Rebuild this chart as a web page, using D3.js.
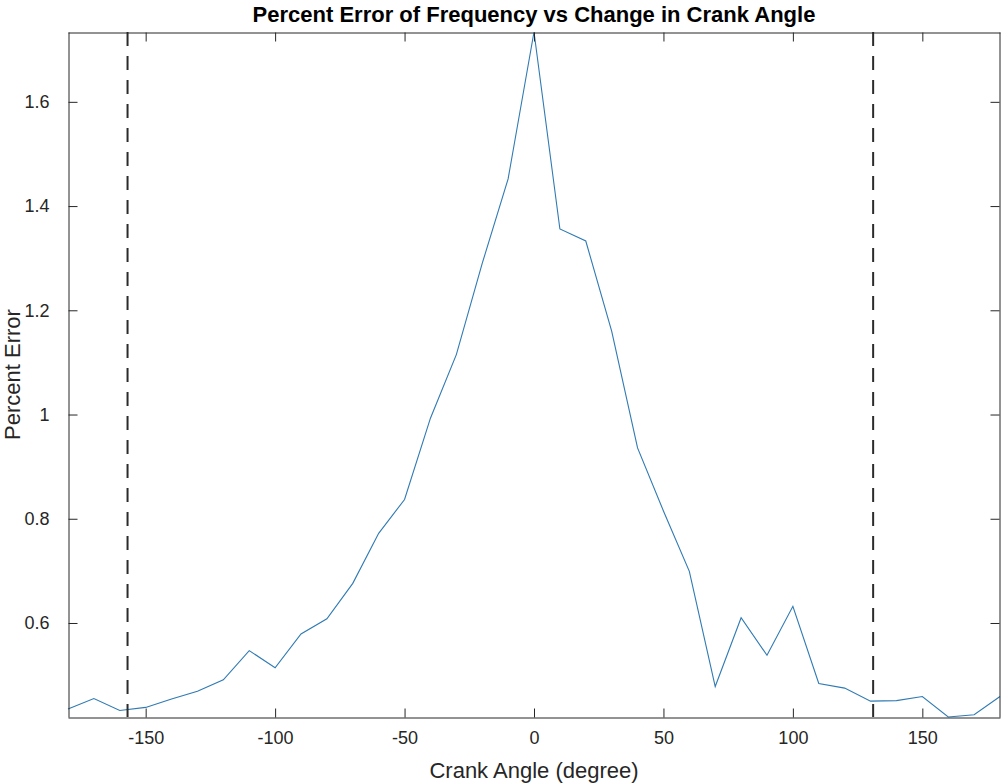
<!DOCTYPE html>
<html>
<head>
<meta charset="utf-8">
<script src="https://cdn.jsdelivr.net/npm/d3@7"></script>
<style>
    body { margin: 0; background: #fff; }
    svg { display: block; font-family: "Liberation Sans", Arial, sans-serif; }
</style>
</head>
<body>
<div id="chart"></div>
<script>
// crank angle (degree) and percent error
const angles = [-180, -170, -160, -150, -140, -130, -120, -110, -100, -90, -80, -70, -60, -50, -40, -30, -20, -10,
    0, 10, 20, 30, 40, 50, 60, 70, 80, 90, 100, 110, 120, 130, 140, 150, 160, 170, 180];
const errors = [0.435, 0.455, 0.432, 0.438, 0.454, 0.469, 0.491, 0.547, 0.514, 0.579, 0.608, 0.676, 0.772, 0.837, 0.993, 1.115, 1.290, 1.452,
    1.734, 1.356, 1.333, 1.160, 0.936, 0.815, 0.699, 0.478, 0.610, 0.538, 0.632, 0.484, 0.475, 0.450, 0.451, 0.459, 0.4196, 0.424, 0.459];
const markers = [-157, 131];
const xTicks = [-150, -100, -50, 0, 50, 100, 150];
const yTicks = [0.6, 0.8, 1.0, 1.2, 1.4, 1.6];

const width = 1001, height = 784;
const margin = {top: 32, right: 1, bottom: 67, left: 68};
const axisColor = "#262626";

const points = angles.map((a, i) => ({x: a, y: errors[i]}));

const x = d3.scaleLinear()
    .domain([-180, 180])
    .range([margin.left, width - margin.right]);

const y = d3.scaleLinear()
    .domain(d3.extent(errors))
    .range([height - margin.bottom, margin.top]);

const svg = d3.select("#chart").append("svg")
    .attr("width", width)
    .attr("height", height)
    .attr("viewBox", [0, 0, width, height]);

const plot = svg.append("g");

// data line
plot.append("path")
    .datum(points)
    .attr("fill", "none")
    .attr("stroke", "#2f7ab3")
    .attr("stroke-width", 1.1)
    .attr("d", d3.line().x(d => x(d.x)).y(d => y(d.y)));

// dashed markers
plot.append("g")
    .selectAll("line")
    .data(markers)
    .join("line")
    .attr("x1", d => x(d))
    .attr("x2", d => x(d))
    .attr("y1", y.range()[1])
    .attr("y2", y.range()[0])
    .attr("stroke", "#2b2b2b")
    .attr("stroke-width", 2)
    .attr("stroke-dasharray", "14,10");

// axes, ticks inside on all four sides like matlab's box
const tickLen = 9;
const axisFont = "18px";

const axBottom = svg.append("g")
    .attr("transform", `translate(0,${y.range()[0] + 0.5})`)
    .call(d3.axisBottom(x).tickValues(xTicks).tickSizeInner(-tickLen).tickSizeOuter(0).tickPadding(14).tickFormat(d => String(d)));
const axTop = svg.append("g")
    .attr("transform", `translate(0,${y.range()[1] + 0.5})`)
    .call(d3.axisTop(x).tickValues(xTicks).tickSizeInner(-tickLen).tickSizeOuter(0).tickFormat(""));
const axLeft = svg.append("g")
    .attr("transform", `translate(${x.range()[0] + 0.5},0)`)
    .call(d3.axisLeft(y).tickValues(yTicks).tickSizeInner(-tickLen).tickSizeOuter(0).tickPadding(19).tickFormat(d => String(+d.toFixed(1))));
const axRight = svg.append("g")
    .attr("transform", `translate(${x.range()[1] - 0.5},0)`)
    .call(d3.axisRight(y).tickValues(yTicks).tickSizeInner(-tickLen).tickSizeOuter(0).tickFormat(""));

[axBottom, axTop, axLeft, axRight].forEach(g => {
    g.select(".domain").attr("stroke", axisColor);
    g.selectAll(".tick line").attr("stroke", axisColor);
    g.selectAll(".tick text")
        .attr("fill", axisColor)
        .style("font-size", axisFont)
        .style("font-family", "'Liberation Sans', Arial, sans-serif");
});

// title and labels
svg.append("text")
    .attr("x", (x.range()[0] + x.range()[1]) / 2)
    .attr("y", 22)
    .attr("text-anchor", "middle")
    .attr("font-weight", "bold")
    .attr("font-size", 22)
    .attr("fill", "#000")
    .text("Percent Error of Frequency vs Change in Crank Angle");

svg.append("text")
    .attr("x", (x.range()[0] + x.range()[1]) / 2)
    .attr("y", 778)
    .attr("text-anchor", "middle")
    .attr("font-size", 22)
    .attr("fill", axisColor)
    .text("Crank Angle (degree)");

svg.append("text")
    .attr("transform", `translate(20,${(y.range()[0] + y.range()[1]) / 2}) rotate(-90)`)
    .attr("text-anchor", "middle")
    .attr("font-size", 22)
    .attr("fill", axisColor)
    .text("Percent Error");
</script>
</body>
</html>
